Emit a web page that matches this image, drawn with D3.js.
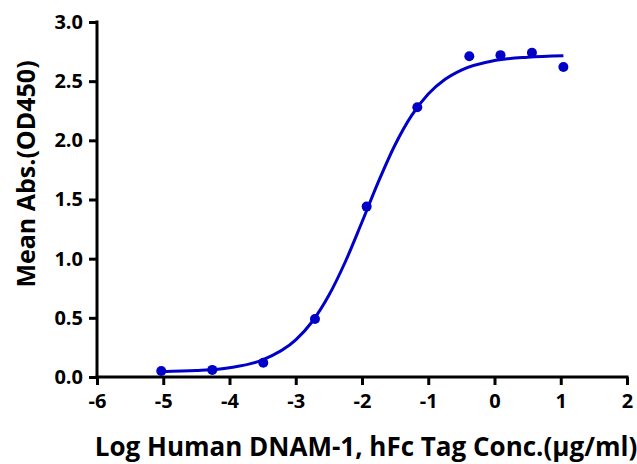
<!DOCTYPE html>
<html>
<head>
<meta charset="utf-8">
<script src="https://cdn.jsdelivr.net/npm/d3@7"></script>
<style>
  body { margin: 0; background: #fff; }
  text { font-family: "Open Sans", "Noto Sans", sans-serif; font-weight: 700; fill: #000; }
  .tick text { font-size: 20px; }
</style>
</head>
<body>
<svg id="chart" width="637" height="464"></svg>
<script>
// measured points (log conc, OD450)
const logConc = [-5.03, -4.26, -3.49, -2.71, -1.93, -1.165, -0.38, 0.09, 0.565, 1.04];
const meanAbs = [0.05, 0.06, 0.12, 0.49, 1.44, 2.28, 2.71, 2.72, 2.74, 2.62];

// fitted curve
const fitX = [-5.03, -4.5, -4.0, -3.5, -3.0, -2.75, -2.5, -2.25, -2.0, -1.75, -1.5, -1.25, -1.0, -0.75, -0.5, 0.0, 0.5, 1.04];
const fitY = [0.045, 0.054, 0.078, 0.144, 0.313, 0.469, 0.69, 0.976, 1.31, 1.653, 1.963, 2.211, 2.392, 2.514, 2.594, 2.674, 2.703, 2.715];

const xTicks = [-6, -5, -4, -3, -2, -1, 0, 1, 2];
const yTicks = [0, 0.5, 1.0, 1.5, 2.0, 2.5, 3.0];

const svg = d3.select("#chart");
const margin = {top: 22, right: 10, bottom: 87, left: 97};
const width = 637 - margin.left - margin.right;
const height = 464 - margin.top - margin.bottom;
const g = svg.append("g").attr("transform", `translate(${margin.left},${margin.top})`);

const x = d3.scaleLinear().domain([-6, 2]).range([0, width]);
const y = d3.scaleLinear().domain([0, 3]).range([height, 0]);
const blue = "#0000c8";

const xAxis = g.append("g")
  .attr("transform", `translate(0,${height})`)
  .call(d3.axisBottom(x).tickValues(xTicks).tickSize(8).tickPadding(9).tickFormat(d => String(d)));

const yAxis = g.append("g")
  .call(d3.axisLeft(y).tickValues(yTicks).tickSize(8).tickPadding(6).tickFormat(d => d.toFixed(1)));

[xAxis, yAxis].forEach(a => {
  a.attr("font-size", 20).attr("font-family", "'Open Sans', sans-serif").attr("font-weight", 700);
  a.select(".domain").attr("stroke", "#000").attr("stroke-width", 3);
  a.selectAll(".tick line").attr("stroke", "#000").attr("stroke-width", 3);
  a.selectAll(".tick text").attr("font-size", 20);
});
xAxis.select(".domain").attr("d", `M-1.5,0H${width + 1.5}`);
yAxis.select(".domain").attr("d", `M0,-1.5V${height}`);

const line = d3.line()
  .x((d, i) => x(fitX[i]))
  .y(d => y(d))
  .curve(d3.curveMonotoneX);

g.append("path")
  .datum(fitY)
  .attr("fill", "none")
  .attr("stroke", blue)
  .attr("stroke-width", 3)
  .attr("d", line);

g.selectAll(".dot")
  .data(meanAbs)
  .enter().append("circle")
  .attr("class", "dot")
  .attr("cx", (d, i) => x(logConc[i]))
  .attr("cy", d => y(d))
  .attr("r", 5)
  .attr("fill", blue);

svg.append("text")
  .attr("x", 366)
  .attr("y", 456)
  .attr("text-anchor", "middle")
  .style("font-size", "26px")
  .text("Log Human DNAM-1, hFc Tag Conc.(µg/ml)");

svg.append("text")
  .attr("transform", `translate(35,174) rotate(-90)`)
  .attr("text-anchor", "middle")
  .style("font-size", "25px")
  .text("Mean Abs.(OD450)");
</script>
</body>
</html>
